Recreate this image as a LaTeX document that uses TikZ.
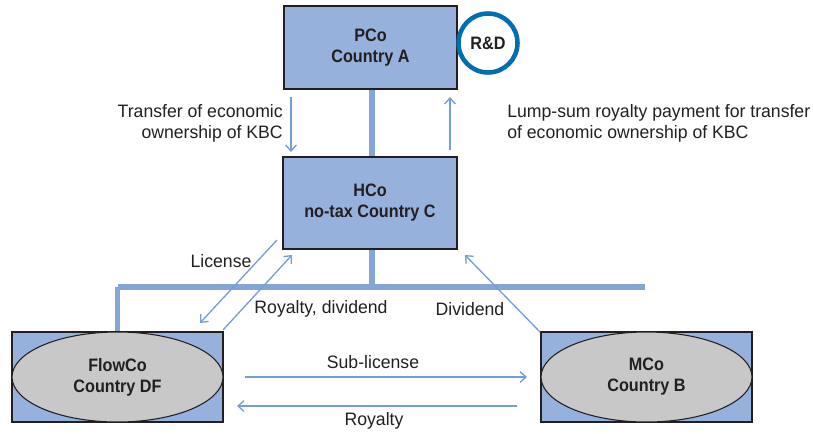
\documentclass[tikz,border=0pt]{standalone}
\usepackage{fontspec}
\setmainfont{Liberation Sans}[FakeStretch=0.98]
\newfontfamily\namefont{Liberation Sans}[FakeStretch=0.9]
\usetikzlibrary{arrows.meta,shapes.geometric}
\definecolor{boxblue}{RGB}{150,178,220}
\definecolor{linkblue}{RGB}{133,165,213}
\definecolor{arrowblue}{RGB}{118,158,214}
\definecolor{ringblue}{RGB}{0,110,178}
\definecolor{ovalgray}{RGB}{200,200,201}
\definecolor{ink}{RGB}{35,31,32}
\newcommand{\labelsize}{\fontsize{13.5}{15.75}\selectfont}
\tikzset{
  entity/.style={draw=ink, line width=0.9pt, fill=boxblue, rectangle, inner sep=0pt,
    align=center, font=\namefont\labelsize\bfseries, text=ink},
  oval/.style={draw=ink, line width=0.8pt, fill=ovalgray, ellipse, inner sep=0pt,
    align=center, font=\namefont\labelsize\bfseries, text=ink},
  ring/.style={draw=ringblue, line width=3.4pt, fill=white, circle, inner sep=0pt,
    font=\namefont\labelsize\bfseries, text=ink},
  link/.style={draw=linkblue, line width=3.8pt},
  flow/.style={draw=arrowblue, line width=1pt, -{Straight Barb[length=4.5pt,width=8pt]}},
  lbl/.style={text=ink, inner sep=0pt, font=\labelsize}
}
\begin{document}
\begin{tikzpicture}[x=0.75pt, y=-0.75pt]
\useasboundingbox (0,0) rectangle (813,433);

% companies
\node[entity, minimum width=173*0.75pt, minimum height=83*0.75pt] (pco) at (370.5,47.5) {PCo\\Country A};
\node[ring, minimum size=59*0.75pt] (rd) at (488,43) {R\&D};
\node[entity, minimum width=174*0.75pt, minimum height=92*0.75pt] (hco) at (370,203) {HCo\\no-tax Country C};
\node[entity, minimum width=211*0.75pt, minimum height=90*0.75pt] (flowbox) at (117.5,377) {};
\node[oval, minimum width=211*0.75pt, minimum height=90*0.75pt] (flow) at (117.5,377) {FlowCo\\Country DF};
\node[entity, minimum width=211*0.75pt, minimum height=90*0.75pt] (mcobox) at (646.5,377) {};
\node[oval, minimum width=211*0.75pt, minimum height=90*0.75pt] (mco) at (646.5,377) {MCo\\Country B};

% ownership structure
\coordinate (bus) at (372,287);
\coordinate (busL) at (117.5,287);
\coordinate (busR) at (645,287);
\draw[link] (pco.south -| bus) -- (hco.north -| bus);
\draw[link] (hco.south -| bus) -- (bus);
\draw[link] (busL) -- (busR);
\draw[link] (busL) -- (flowbox.north);

% flows
\coordinate (t1) at (291,97);  \coordinate (t2) at (291,152);
\coordinate (p1) at (450,150); \coordinate (p2) at (450,97);
\coordinate (l1) at (277,240); \coordinate (l2) at (200,323);
\coordinate (r1) at (223,330); \coordinate (r2) at (292,255);
\coordinate (d1) at (540,332); \coordinate (d2) at (465,255);
\coordinate (s1) at (245,377); \coordinate (s2) at (527,377);
\coordinate (y1) at (517,406); \coordinate (y2) at (237,406);
\draw[flow] (t1) -- (t2);
\draw[flow] (p1) -- (p2);
\draw[flow] (l1) -- (l2);
\draw[flow] (r1) -- (r2);
\draw[flow] (d1) -- (d2);
\draw[flow] (s1) -- (s2);
\draw[flow] (y1) -- (y2);

% labels
\node[lbl, anchor=east, align=right] (ltransfer) at (283,123) {Transfer of economic\\ownership of KBC};
\node[lbl, anchor=west, align=left] (llump) at (507,123) {Lump-sum royalty payment for transfer\\of economic ownership of KBC};
\node[lbl] (llicense) at (221,261) {License};
\node[lbl] (lroyd) at (321,309) {Royalty, dividend};
\node[lbl] (ldiv) at (470,309) {Dividend};
\node[lbl] (lsub) at (373,362) {Sub-license};
\node[lbl] (lroy) at (374,421) {Royalty};
\end{tikzpicture}
\end{document}
